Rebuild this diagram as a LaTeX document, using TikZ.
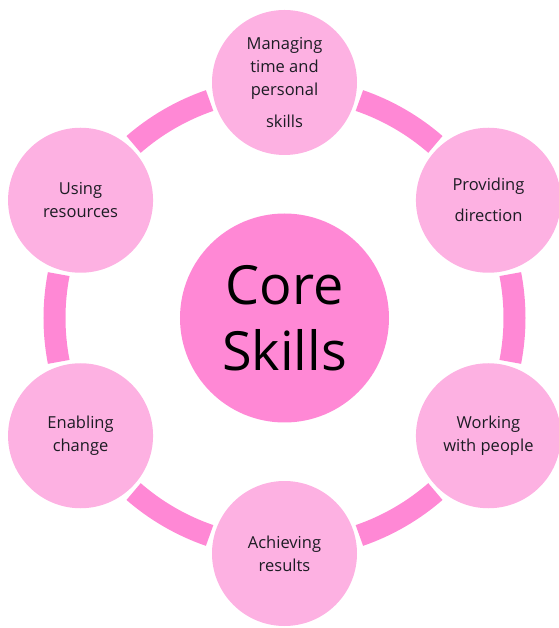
\documentclass[tikz,border=0pt]{standalone}
\usepackage{fontspec}
\setmainfont{Open Sans}
\definecolor{ringpink}{HTML}{FF88D5}
\definecolor{petal}{HTML}{FDB1E2}
\definecolor{ink}{HTML}{1C1C24}

\begin{document}
\begin{tikzpicture}
      [x = 1pt, y = 1pt,
       skill/.style = {circle, fill = petal, minimum size = 145pt, inner sep = 0pt,
                       align = center, text = ink, font = \fontsize{16.5}{23}\selectfont},
       hub/.style = {circle, fill = ringpink, minimum size = 209pt, inner sep = 0pt,
                     align = center, text = black, font = \fontsize{54}{66}\selectfont}]
      \useasboundingbox (-284.5,-310) rectangle (273.5,318);
      \foreach \a in {90,150,...,390}
        \draw[ringpink, line width = 22pt] (\a+19:230) arc (\a+19:\a+41:230);
      \node[hub] (core) at (0,0) {Core\\Skills};
      \node[skill] (manage) at (90:235.5) {Managing\\time and\\personal\\[9pt]skills};
      \node[skill] (direct) at (30:235.5) {Providing\\[8pt]direction};
      \node[skill] (people) at (-30:235.5) {Working\\with people};
      \node[skill] (results) at (-90:235.5) {Achieving\\results};
      \node[skill] (change) at (-150:235.5) {Enabling\\change};
      \node[skill] (resources) at (150:235.5) {Using\\resources};
      \end{tikzpicture}
\end{document}
